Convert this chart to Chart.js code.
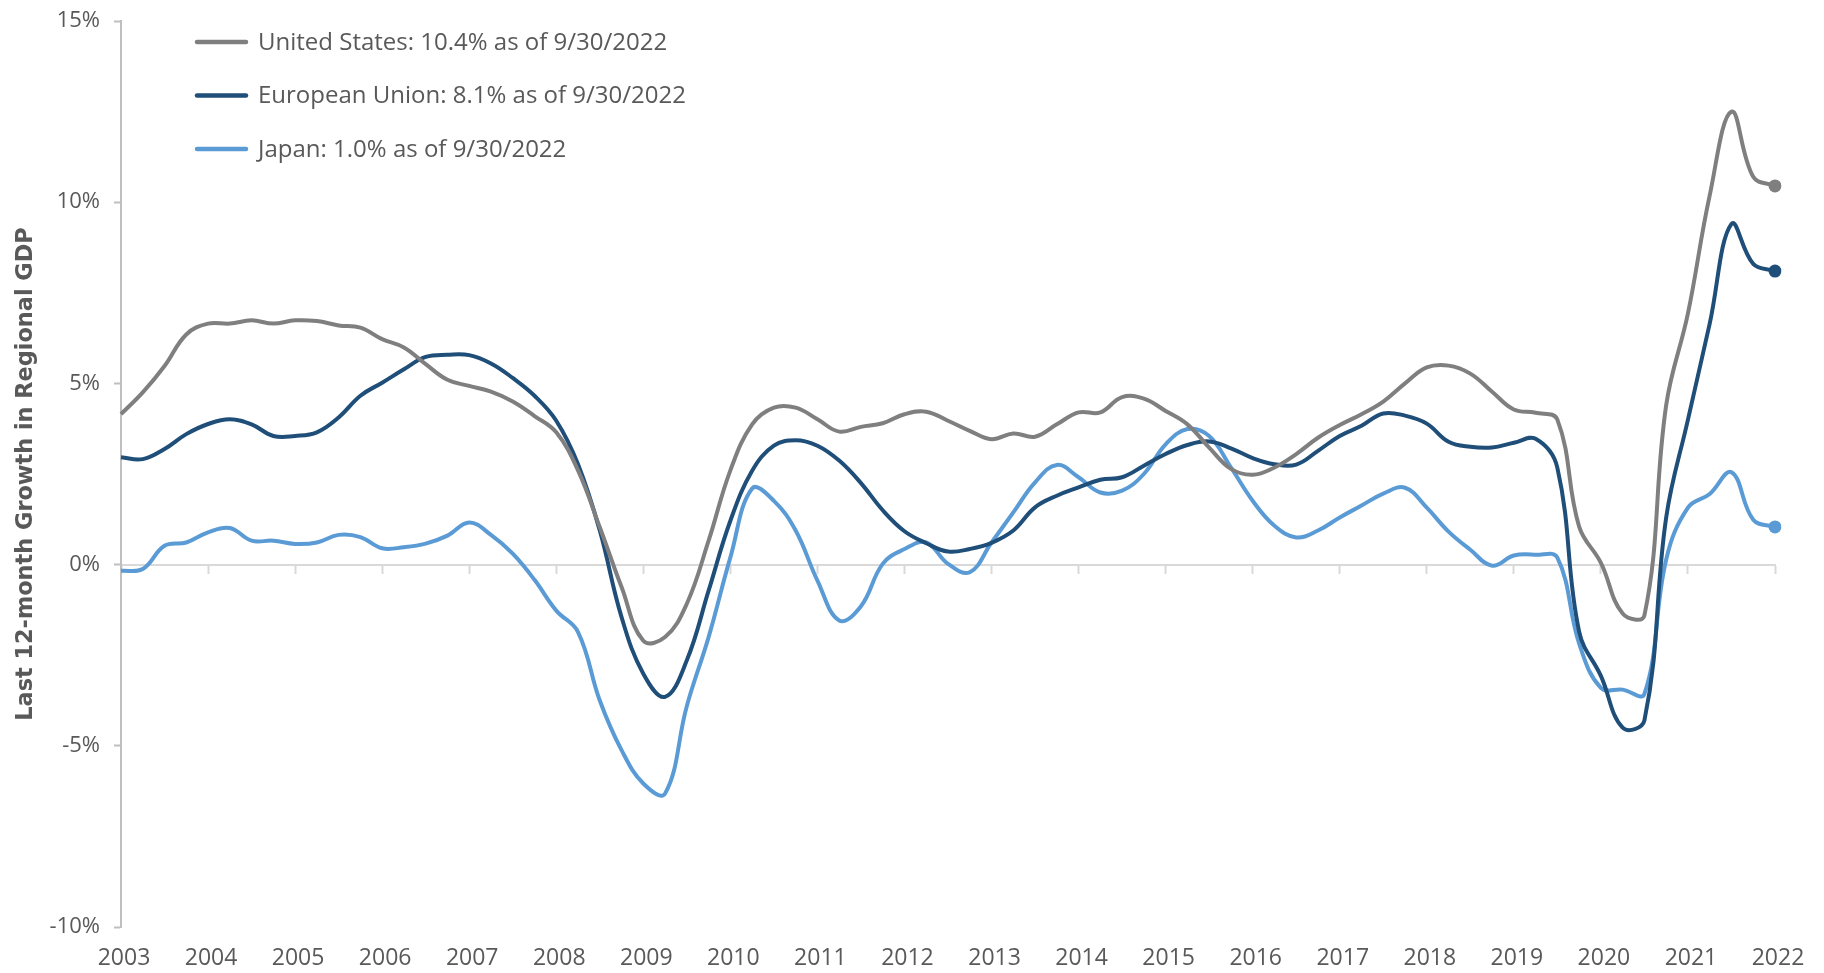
<!DOCTYPE html>
<html>
<head>
<meta charset="utf-8">
<title>Last 12-month Growth in Regional GDP</title>
<script src="https://cdn.jsdelivr.net/npm/chart.js@4.4.0/dist/chart.umd.min.js"></script>
<style>
  html, body { margin: 0; padding: 0; background: #ffffff; }
  #wrap { width: 1824px; height: 973px; }
</style>
</head>
<body>
<div id="wrap"><canvas id="gdpChart" width="1824" height="973"></canvas></div>
<script>
// quarter-end dates, 9/30/2003 .. 9/30/2022
const quarters = [
  '9/30/2003', '12/31/2003',
  '3/31/2004', '6/30/2004', '9/30/2004', '12/31/2004',
  '3/31/2005', '6/30/2005', '9/30/2005', '12/31/2005',
  '3/31/2006', '6/30/2006', '9/30/2006', '12/31/2006',
  '3/31/2007', '6/30/2007', '9/30/2007', '12/31/2007',
  '3/31/2008', '6/30/2008', '9/30/2008', '12/31/2008',
  '3/31/2009', '6/30/2009', '9/30/2009', '12/31/2009',
  '3/31/2010', '6/30/2010', '9/30/2010', '12/31/2010',
  '3/31/2011', '6/30/2011', '9/30/2011', '12/31/2011',
  '3/31/2012', '6/30/2012', '9/30/2012', '12/31/2012',
  '3/31/2013', '6/30/2013', '9/30/2013', '12/31/2013',
  '3/31/2014', '6/30/2014', '9/30/2014', '12/31/2014',
  '3/31/2015', '6/30/2015', '9/30/2015', '12/31/2015',
  '3/31/2016', '6/30/2016', '9/30/2016', '12/31/2016',
  '3/31/2017', '6/30/2017', '9/30/2017', '12/31/2017',
  '3/31/2018', '6/30/2018', '9/30/2018', '12/31/2018',
  '3/31/2019', '6/30/2019', '9/30/2019', '12/31/2019',
  '3/31/2020', '6/30/2020', '9/30/2020', '12/31/2020',
  '3/31/2021', '6/30/2021', '9/30/2021', '12/31/2021',
  '3/31/2022', '6/30/2022', '9/30/2022'
];

const usGrowth = [
  4.15, 4.75,
  5.48, 6.35, 6.65, 6.65,
  6.74, 6.65, 6.74, 6.72,
  6.60, 6.54, 6.22, 5.99,
  5.53, 5.10, 4.93, 4.77,
  4.50, 4.10, 3.65, 2.60,
  1.03, -0.62, -2.10, -2.00,
  -1.08, 0.66, 2.60, 3.87,
  4.33, 4.33, 4.01, 3.67,
  3.80, 3.90, 4.15, 4.22,
  3.97, 3.69, 3.46, 3.62,
  3.53, 3.87, 4.20, 4.20,
  4.62, 4.58, 4.24, 3.87,
  3.23, 2.64, 2.48, 2.68,
  3.05, 3.50, 3.85, 4.15,
  4.50, 5.00, 5.44, 5.49,
  5.27, 4.77, 4.28, 4.19,
  4.00, 1.05, 0.05, -1.35,
  -1.40, 4.40, 6.93, 10.19,
  12.50, 10.70, 10.45
];

const euGrowth = [
  2.96, 2.91,
  3.19, 3.60, 3.88, 4.01,
  3.87, 3.55, 3.55, 3.65,
  4.06, 4.66, 5.02, 5.39,
  5.73, 5.79, 5.78, 5.55,
  5.15, 4.66, 3.97, 2.77,
  0.94, -1.45, -3.01, -3.65,
  -2.64, -0.72, 1.21, 2.59,
  3.28, 3.43, 3.28, 2.87,
  2.25, 1.50, 0.92, 0.59,
  0.36, 0.43, 0.60, 0.94,
  1.58, 1.90, 2.13, 2.34,
  2.41, 2.73, 3.05, 3.30,
  3.40, 3.21, 2.94, 2.77,
  2.76, 3.14, 3.55, 3.83,
  4.17, 4.11, 3.89, 3.39,
  3.25, 3.23, 3.36, 3.47,
  2.67, -1.85, -3.07, -4.50,
  -4.30, 1.30, 4.00, 6.65,
  9.40, 8.30, 8.10
];

const japanGrowth = [
  -0.17, -0.12,
  0.52, 0.61, 0.89, 1.01,
  0.66, 0.66, 0.57, 0.61,
  0.82, 0.76, 0.45, 0.48,
  0.58, 0.80, 1.16, 0.82,
  0.30, -0.42, -1.27, -1.86,
  -3.75, -5.12, -6.04, -6.32,
  -3.90, -2.00, 0.20, 2.10,
  1.76, 0.94, -0.44, -1.54,
  -1.15, 0.02, 0.43, 0.61,
  0.02, -0.21, 0.61, 1.44,
  2.27, 2.75, 2.41, 1.99,
  2.04, 2.50, 3.32, 3.74,
  3.55, 2.68, 1.76, 1.07,
  0.75, 0.94, 1.30, 1.63,
  1.96, 2.12, 1.57, 0.91,
  0.41, -0.03, 0.25, 0.27,
  0.19, -2.18, -3.40, -3.45,
  -3.57, 0.14, 1.57, 1.95,
  2.55, 1.24, 1.04
];

const seriesNames = [
  'United States: 10.4% as of 9/30/2022',
  'European Union: 8.1% as of 9/30/2022',
  'Japan: 1.0% as of 9/30/2022'
];
const seriesColors = ['#7f7f7f', '#1f4e79', '#5b9bd5'];

const textColor = '#595959';
const fontFamily = '"Open Sans", "DejaVu Sans", sans-serif';

function isYearTick(index) {
  return quarters[index].startsWith('9/30/');
}

// only the last point of each line gets a dot
function lastPointRadius(ctx) {
  return ctx.dataIndex === quarters.length - 1 ? 6.5 : 0;
}

function makeDataset(i, values) {
  return {
    label: seriesNames[i],
    data: values,
    xAxisID: 'x',
    yAxisID: 'y',
    borderColor: seriesColors[i],
    backgroundColor: seriesColors[i],
    borderWidth: 4,
    tension: 0.4,
    pointRadius: lastPointRadius,
    pointHoverRadius: 0,
    pointBorderWidth: 0,
    fill: false
  };
}

// legend drawn inside the plot, stacked top-left
const insideLegend = {
  id: 'insideLegend',
  afterDraw(chart) {
    const ctx = chart.ctx;
    const left = chart.chartArea.left + 76;
    ctx.save();
    ctx.font = '24px ' + fontFamily;
    ctx.textBaseline = 'middle';
    chart.data.datasets.forEach((ds, i) => {
      const y = 42 + i * 53.5;
      ctx.strokeStyle = ds.borderColor;
      ctx.lineWidth = 4.5;
      ctx.lineCap = 'round';
      ctx.beginPath();
      ctx.moveTo(left, y);
      ctx.lineTo(left + 49, y);
      ctx.stroke();
      ctx.fillStyle = textColor;
      ctx.fillText(ds.label, left + 61, y + 1);
    });
    ctx.restore();
  }
};

// keep tick-label overhang from pushing the plot area around
function noScalePadding(scale) {
  scale.paddingTop = 0;
  scale.paddingBottom = 0;
  scale.paddingLeft = 0;
  scale.paddingRight = 0;
}

const ctx = document.getElementById('gdpChart').getContext('2d');

const chart = new Chart(ctx, {
  type: 'line',
  data: {
    labels: quarters,
    datasets: [
      makeDataset(0, usGrowth),
      makeDataset(1, euGrowth),
      makeDataset(2, japanGrowth)
    ]
  },
  options: {
    responsive: false,
    animation: false,
    layout: { padding: { left: 0, right: 49, top: 21, bottom: 0 } },
    plugins: {
      legend: { display: false },
      tooltip: { enabled: false }
    },
    scales: {
      x: {
        type: 'category',
        position: 'bottom',
        offset: false,
        grid: { display: false, drawTicks: false },
        border: { display: false },
        ticks: {
          autoSkip: false,
          maxRotation: 0,
          minRotation: 0,
          padding: 18,
          labelOffset: 3,
          color: textColor,
          font: { family: fontFamily, size: 23 },
          callback(value) {
            const label = this.getLabelForValue(value);
            return isYearTick(value) ? label.slice(-4) : '';
          }
        },
        afterFit(scale) {
          noScalePadding(scale);
          scale.height = 46;
        }
      },
      // zero line with the yearly tick marks hanging below it
      xZero: {
        type: 'category',
        axis: 'x',
        position: { y: 0 },
        offset: false,
        grid: {
          display: true,
          drawOnChartArea: false,
          drawTicks: true,
          tickLength: 8,
          tickWidth: 2,
          tickColor: (c) => isYearTick(c.index) ? '#d9d9d9' : 'rgba(0,0,0,0)'
        },
        border: { display: true, color: '#d9d9d9', width: 2 },
        ticks: { display: false, autoSkip: false },
        afterFit: noScalePadding
      },
      y: {
        type: 'linear',
        position: 'left',
        min: -10,
        max: 15,
        grid: {
          display: true,
          drawOnChartArea: false,
          drawTicks: true,
          tickLength: 7,
          tickWidth: 2,
          tickColor: '#bfbfbf'
        },
        border: { display: true, color: '#bfbfbf', width: 2 },
        ticks: {
          stepSize: 5,
          padding: 14,
          color: textColor,
          font: { family: fontFamily, size: 22 },
          callback: (v) => v + '%'
        },
        title: {
          display: true,
          text: 'Last 12-month Growth in Regional GDP',
          color: textColor,
          font: { family: '"DejaVu Sans", sans-serif', size: 22.4, weight: 'bold' },
          padding: { top: 13, bottom: 0 }
        },
        afterFit(scale) {
          noScalePadding(scale);
          scale.width = 121;
        }
      }
    }
  },
  plugins: [insideLegend]
});
</script>
</body>
</html>
